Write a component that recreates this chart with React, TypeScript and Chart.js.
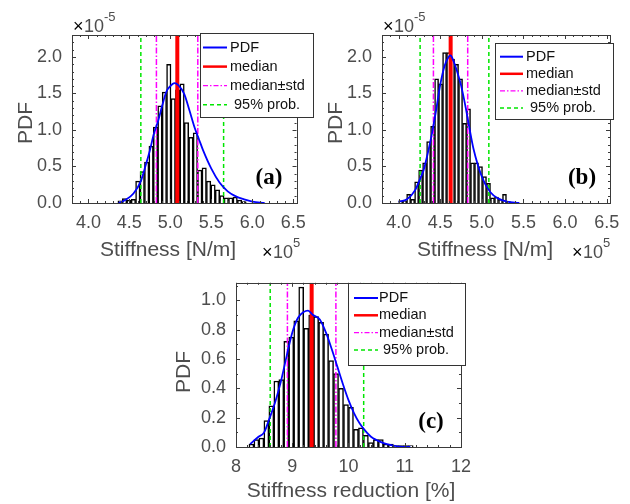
import React, { useEffect, useRef } from 'react';
import { Chart, registerables } from 'chart.js';
Chart.register(...registerables);

const FONT = '"Liberation Sans", Arial, Helvetica, sans-serif';
const SERIF = '"Liberation Serif", "Times New Roman", serif';

// ---------- Panel (a) ----------
const histStartA = 4.36;
const histWidthA = 0.054;
const histA = [0.03, 0.06, 0.04, 0.05, 0.30, 0.43, 0.56, 0.78, 1.04, 1.33, 1.52, 1.90, 1.43, 1.55, 1.63, 1.10, 0.90, 0.96, 0.45, 0.48, 0.30, 0.25, 0.18, 0.10, 0.07, 0.07, 0.08, 0.04, 0.02];
const pdfXA = [4.37, 4.45, 4.55, 4.64, 4.7, 4.75, 4.8, 4.85, 4.9, 4.95, 5.0, 5.05, 5.1, 5.17, 5.23, 5.3, 5.35, 5.4, 5.5, 5.6, 5.7, 5.8, 5.9, 6.0, 6.15];
const pdfYA = [0.0, 0.04, 0.13, 0.30, 0.52, 0.72, 0.95, 1.12, 1.33, 1.52, 1.60, 1.64, 1.61, 1.49, 1.28, 1.02, 0.87, 0.72, 0.47, 0.28, 0.16, 0.09, 0.05, 0.02, 0.0];
const medianA = 5.085;
const stdA = [4.83, 5.335];
const probA = [4.64, 5.65];

// ---------- Panel (b) ----------
const histStartB = 4.0;
const histWidthB = 0.048;
const histB = [0.03, 0.03, 0.12, 0.05, 0.29, 0.45, 0.55, 0.84, 1.05, 1.70, 1.63, 2.06, 2.06, 1.97, 1.90, 1.70, 1.09, 1.29, 0.55, 0.55, 0.50, 0.36, 0.27, 0.07, 0.08, 0.05, 0.12, 0.02];
const pdfXB = [4.0, 4.1, 4.2, 4.25, 4.3, 4.35, 4.4, 4.45, 4.5, 4.55, 4.6, 4.625, 4.65, 4.7, 4.75, 4.8, 4.85, 4.9, 5.0, 5.1, 5.2, 5.3, 5.45];
const pdfYB = [0.02, 0.05, 0.18, 0.31, 0.45, 0.68, 0.95, 1.27, 1.62, 1.87, 2.0, 2.02, 1.97, 1.81, 1.61, 1.34, 1.03, 0.74, 0.36, 0.15, 0.06, 0.02, 0.0];
const medianB = 4.625;
const stdB = [4.418, 4.83];
const probB = [4.258, 5.084];

// ---------- Panel (c) ----------
const histStartC = 8.23;
const histWidthC = 0.0885;
const histC = [0.02, 0.05, 0.06, 0.18, 0.28, 0.45, 0.46, 0.72, 0.75, 0.86, 1.09, 0.81, 0.90, 0.89, 0.85, 0.77, 0.59, 0.50, 0.40, 0.29, 0.27, 0.12, 0.13, 0.08, 0.03, 0.05, 0.05, 0.02, 0.02, 0.01, 0.01, 0.01, 0.01];
const pdfXC = [8.25, 8.4, 8.5, 8.6, 8.7, 8.8, 8.9, 9.0, 9.1, 9.2, 9.28, 9.37, 9.49, 9.6, 9.7, 9.8, 9.9, 10.0, 10.1, 10.2, 10.3, 10.4, 10.6, 10.8, 11.0, 11.1];
const pdfYC = [0.02, 0.07, 0.10, 0.20, 0.31, 0.45, 0.62, 0.78, 0.88, 0.92, 0.93, 0.90, 0.87, 0.78, 0.67, 0.55, 0.43, 0.32, 0.23, 0.16, 0.11, 0.07, 0.03, 0.01, 0.0, 0.0];
const medianC = 9.345;
const stdC = [8.914, 9.776];
const probC = [8.608, 10.27];

// ---------- Axes ----------
const xRangeAB = [3.8, 6.54];
const yRangeAB = [0, 2.3];
const xTicksAB = [4.0, 4.5, 5.0, 5.5, 6.0, 6.5];
const yTicksAB = [0, 0.5, 1.0, 1.5, 2.0];
const xRangeC = [8, 12];
const yRangeC = [0, 1.12];
const xTicksC = [8, 9, 10, 11, 12];
const yTicksC = [0, 0.2, 0.4, 0.6, 0.8, 1.0];

const legendLabels = ['PDF', 'median', 'median\u00b1std', ' 95% prob.'];
const xLabelAB = 'Stiffness [N/m]';
const xLabelC = 'Stiffness reduction [%]';
const yLabel = 'PDF';

const BLUE = '#0000ff';
const RED = '#ff0000';
const MAGENTA = '#ff00ff';
const GREEN = '#00e600';
const AXIS = '#3a3a3a';
const TEXT = '#4d4d4d';

type Panel = {
  canvas: { left: number; top: number; w: number; h: number };
  area: { left: number; top: number; right: number; bottom: number };
  histStart: number; histWidth: number; hist: number[];
  pdfX: number[]; pdfY: number[];
  median: number; std: number[]; prob: number[];
  xRange: number[]; yRange: number[]; xTicks: number[]; yTicks: number[];
  xMinor: number; yMinor: number; xDigits: number;
  xLabel: string; xLabelPos: number[]; yLabelPos: number[];
  tag: string; tagPos: number[];
  legend: { box: number[]; rows: number[]; lineX: number[]; textX: number };
  multTop?: number[]; multBottom?: number[];
};

const panels: Panel[] = [
  {
    canvas: { left: 0, top: 0, w: 315, h: 262 },
    area: { left: 72, top: 35, right: 300, bottom: 203 },
    histStart: histStartA, histWidth: histWidthA, hist: histA,
    pdfX: pdfXA, pdfY: pdfYA, median: medianA, std: stdA, prob: probA,
    xRange: xRangeAB, yRange: yRangeAB, xTicks: xTicksAB, yTicks: yTicksAB,
    xMinor: 0.1, yMinor: 0.1, xDigits: 1,
    xLabel: xLabelAB, xLabelPos: [168, 250], yLabelPos: [26, 123],
    tag: '(a)', tagPos: [269, 178],
    legend: { box: [200, 33, 313, 117], rows: [47.5, 66.6, 85.7, 104.8], lineX: [203, 227], textX: 230 },
    multTop: [73, 32], multBottom: [262, 258],
  },
  {
    canvas: { left: 315, top: 0, w: 315, h: 262 },
    area: { left: 382, top: 35, right: 610, bottom: 203 },
    histStart: histStartB, histWidth: histWidthB, hist: histB,
    pdfX: pdfXB, pdfY: pdfYB, median: medianB, std: stdB, prob: probB,
    xRange: xRangeAB, yRange: yRangeAB, xTicks: xTicksAB, yTicks: yTicksAB,
    xMinor: 0.1, yMinor: 0.1, xDigits: 1,
    xLabel: xLabelAB, xLabelPos: [485, 250], yLabelPos: [336, 123],
    tag: '(b)', tagPos: [582, 178],
    legend: { box: [495, 43, 613, 119], rows: [56.7, 73.8, 90.9, 108], lineX: [500, 523], textX: 526 },
    multTop: [383, 32], multBottom: [572, 258],
  },
  {
    canvas: { left: 160, top: 262, w: 320, h: 242 },
    area: { left: 236, top: 277, right: 462, bottom: 447 },
    histStart: histStartC, histWidth: histWidthC, hist: histC,
    pdfX: pdfXC, pdfY: pdfYC, median: medianC, std: stdC, prob: probC,
    xRange: xRangeC, yRange: yRangeC, xTicks: xTicksC, yTicks: yTicksC,
    xMinor: 0.2, yMinor: 0.1, xDigits: 0,
    xLabel: xLabelC, xLabelPos: [351, 491], yLabelPos: [184, 372],
    tag: '(c)', tagPos: [431, 422],
    legend: { box: [348, 283, 465, 365], rows: [298, 315.3, 332.6, 350], lineX: [354, 378], textX: 379 },
  },
];

function vline(label: string, x: number, yr: number[], color: string, width: number, dash: number[], order: number) {
  return {
    type: 'line' as const,
    label,
    data: [{ x, y: yr[0] }, { x, y: yr[1] }],
    borderColor: color,
    borderWidth: width,
    borderDash: dash,
    pointRadius: 0,
    fill: false,
    order,
  };
}

function buildConfig(p: Panel): any {
  const ox = p.canvas.left;
  const oy = p.canvas.top;
  const yAxisW = p.area.left - ox;
  const xAxisH = 40;
  const padBottom = p.canvas.h - (p.area.bottom - oy) - xAxisH;

  const histData = p.hist.map((h, i) => ({ x: p.histStart + (i + 0.5) * p.histWidth, y: h }));
  const pdfData = p.pdfX.map((x, i) => ({ x, y: p.pdfY[i] }));

  const decor = {
    id: 'decor' + p.tag,
    afterDraw(chart: any) {
      const ctx: CanvasRenderingContext2D = chart.ctx;
      const a = chart.chartArea;
      const xs = chart.scales.x;
      const ys = chart.scales.y;
      ctx.save();
      // box
      ctx.strokeStyle = AXIS;
      ctx.lineWidth = 1;
      ctx.setLineDash([]);
      ctx.strokeRect(Math.round(a.left) + 0.5, Math.round(a.top) + 0.5, Math.round(a.right - a.left), Math.round(a.bottom - a.top));
      // ticks (inward, MATLAB style)
      const isMajor = (v: number, ticks: number[]) => ticks.some((t) => Math.abs(t - v) < 1e-6);
      ctx.beginPath();
      const x0 = Math.ceil(p.xRange[0] / p.xMinor - 1e-6);
      for (let k = x0; k * p.xMinor <= p.xRange[1] + 1e-6; k++) {
        const v = k * p.xMinor;
        const px = Math.round(xs.getPixelForValue(v)) + 0.5;
        const len = isMajor(v, p.xTicks) ? 4 : 2;
        ctx.moveTo(px, a.bottom); ctx.lineTo(px, a.bottom - len);
        ctx.moveTo(px, a.top); ctx.lineTo(px, a.top + len);
      }
      const y0 = Math.ceil(p.yRange[0] / p.yMinor - 1e-6);
      for (let k = y0; k * p.yMinor <= p.yRange[1] + 1e-6; k++) {
        const v = k * p.yMinor;
        const py = Math.round(ys.getPixelForValue(v)) + 0.5;
        const len = isMajor(v, p.yTicks) ? 4 : 2;
        ctx.moveTo(a.left, py); ctx.lineTo(a.left + len, py);
        ctx.moveTo(a.right, py); ctx.lineTo(a.right - len, py);
      }
      ctx.stroke();

      ctx.translate(-ox, -oy);
      // legend
      const L = p.legend;
      ctx.fillStyle = '#ffffff';
      ctx.fillRect(L.box[0], L.box[1], L.box[2] - L.box[0], L.box[3] - L.box[1]);
      ctx.strokeStyle = '#333333';
      ctx.lineWidth = 1;
      ctx.strokeRect(L.box[0] + 0.5, L.box[1] + 0.5, L.box[2] - L.box[0], L.box[3] - L.box[1]);
      const styles = [
        { c: BLUE, w: 2, d: [] as number[] },
        { c: RED, w: 2.5, d: [] as number[] },
        { c: MAGENTA, w: 1.2, d: [5, 2, 1.5, 2] },
        { c: GREEN, w: 1.4, d: [4, 3] },
      ];
      legendLabels.forEach((lab, i) => {
        const s = styles[i];
        const y = L.rows[i];
        ctx.beginPath();
        ctx.strokeStyle = s.c;
        ctx.lineWidth = s.w;
        ctx.setLineDash(s.d);
        ctx.moveTo(L.lineX[0], y);
        ctx.lineTo(L.lineX[1], y);
        ctx.stroke();
        ctx.setLineDash([]);
        ctx.fillStyle = '#111111';
        ctx.font = `14.5px ${FONT}`;
        ctx.textAlign = 'left';
        ctx.textBaseline = 'middle';
        ctx.fillText(lab, L.textX, y);
      });
      // panel tag
      ctx.fillStyle = '#000000';
      ctx.font = `bold 23px ${SERIF}`;
      ctx.textAlign = 'center';
      ctx.textBaseline = 'middle';
      ctx.fillText(p.tag, p.tagPos[0], p.tagPos[1]);
      // axis labels
      ctx.fillStyle = TEXT;
      ctx.font = `21px ${FONT}`;
      ctx.textAlign = 'center';
      ctx.textBaseline = 'middle';
      ctx.fillText(p.xLabel, p.xLabelPos[0], p.xLabelPos[1]);
      ctx.save();
      ctx.translate(p.yLabelPos[0], p.yLabelPos[1]);
      ctx.rotate(-Math.PI / 2);
      ctx.fillText(yLabel, 0, 0);
      ctx.restore();
      // multipliers
      const mult = (pos: number[], exp: string) => {
        ctx.textAlign = 'left';
        ctx.textBaseline = 'alphabetic';
        ctx.font = `18px ${FONT}`;
        ctx.fillStyle = '#000000';
        ctx.fillText('\u00d7', pos[0], pos[1]);
        ctx.fillStyle = TEXT;
        ctx.fillText('10', pos[0] + 11, pos[1]);
        ctx.font = `13px ${FONT}`;
        ctx.fillText(exp, pos[0] + 31, pos[1] - 11);
      };
      if (p.multTop) mult(p.multTop, '-5');
      if (p.multBottom) mult(p.multBottom, '5');
      ctx.restore();
    },
  };

  return {
    type: 'bar',
    data: {
      datasets: [
        {
          type: 'line', label: 'PDF', data: pdfData, borderColor: BLUE, borderWidth: 1.8,
          pointRadius: 0, fill: false, cubicInterpolationMode: 'monotone', order: 1,
        },
        vline('median', p.median, p.yRange, RED, 4, [], 2),
        vline('std lo', p.std[0], p.yRange, MAGENTA, 1.5, [6, 2, 1.5, 2], 3),
        vline('std hi', p.std[1], p.yRange, MAGENTA, 1.5, [6, 2, 1.5, 2], 3),
        vline('prob lo', p.prob[0], p.yRange, GREEN, 1.5, [4, 3], 4),
        vline('prob hi', p.prob[1], p.yRange, GREEN, 1.5, [4, 3], 4),
        {
          type: 'bar', label: 'hist', data: histData, backgroundColor: '#ffffff', borderColor: '#000000',
          borderWidth: 1.5, barPercentage: 1, categoryPercentage: 1, order: 10,
        },
      ],
    },
    options: {
      animation: false,
      responsive: false,
      devicePixelRatio: 1,
      events: [],
      layout: {
        padding: {
          left: 0,
          top: p.area.top - oy,
          right: p.canvas.w - (p.area.right - ox),
          bottom: padBottom,
        },
      },
      plugins: { legend: { display: false }, tooltip: { enabled: false }, title: { display: false } },
      scales: {
        x: {
          type: 'linear', min: p.xRange[0], max: p.xRange[1], offset: false,
          grid: { display: false, drawTicks: false }, border: { display: false },
          ticks: {
            autoSkip: false, maxRotation: 0, padding: 9, color: TEXT,
            font: { family: FONT, size: 18 },
            callback: (v: number) => v.toFixed(p.xDigits),
          },
          afterBuildTicks: (s: any) => { s.ticks = p.xTicks.map((v) => ({ value: v })); },
          afterFit: (s: any) => { s.height = xAxisH; },
        },
        y: {
          type: 'linear', min: p.yRange[0], max: p.yRange[1],
          grid: { display: false, drawTicks: false }, border: { display: false },
          ticks: {
            autoSkip: false, padding: 10, color: TEXT,
            font: { family: FONT, size: 18 },
            callback: (v: number) => v.toFixed(1),
          },
          afterBuildTicks: (s: any) => { s.ticks = p.yTicks.map((v) => ({ value: v })); },
          afterFit: (s: any) => { s.width = yAxisW; },
        },
      },
    },
    plugins: [decor],
  };
}

function PanelChart({ p }: { p: Panel }) {
  const ref = useRef<HTMLCanvasElement>(null);
  useEffect(() => {
    const chart = new Chart(ref.current as HTMLCanvasElement, buildConfig(p));
    return () => chart.destroy();
  }, [p]);
  return (
    <canvas
      ref={ref}
      width={p.canvas.w}
      height={p.canvas.h}
      style={{ position: 'absolute', left: p.canvas.left, top: p.canvas.top, width: p.canvas.w, height: p.canvas.h }}
    />
  );
}

export default function App() {
  return (
    <div style={{ position: 'absolute', left: 0, top: 0, width: 630, height: 504, background: '#ffffff', overflow: 'hidden' }}>
      {panels.map((p) => (
        <PanelChart key={p.tag} p={p} />
      ))}
    </div>
  );
}
